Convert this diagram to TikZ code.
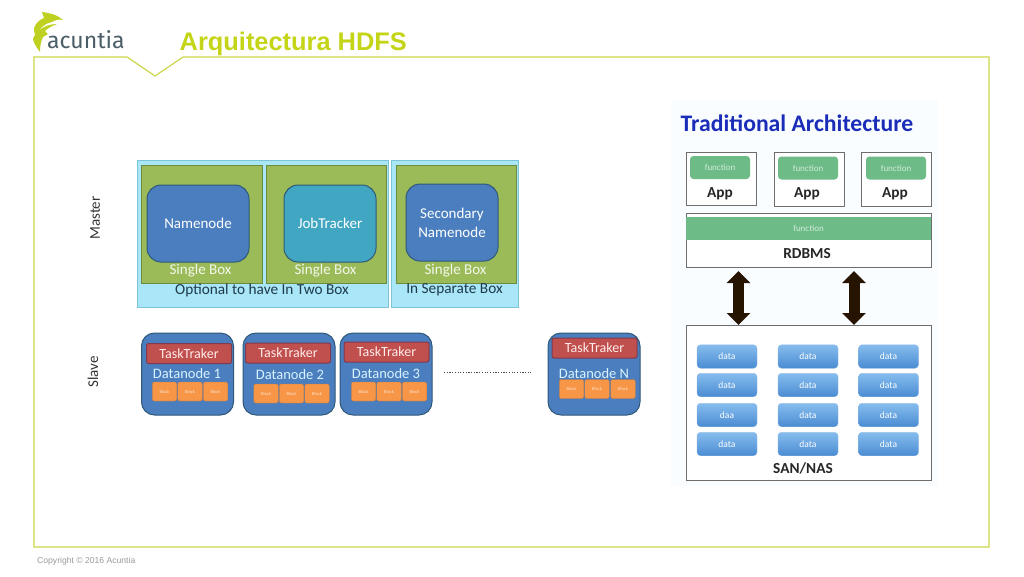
\documentclass[tikz,border=0pt]{standalone}
\usepackage{fontspec}
\setmainfont{Carlito}
\newfontfamily\arialfont{Liberation Sans}
\newfontfamily\logofont{Fira Sans}
\usepackage{tikz}
\usetikzlibrary{arrows.meta}
\definecolor{lime}{HTML}{C4D416}
\definecolor{framelime}{HTML}{CDD64A}
\definecolor{skyfill}{HTML}{A8E6F8}
\definecolor{skyline}{HTML}{7FC4D4}
\definecolor{olive}{HTML}{9BBB59}
\definecolor{oliveline}{HTML}{6F8A3E}
\definecolor{nodeblue}{HTML}{4A7EBF}
\definecolor{nodeline}{HTML}{2F5878}
\definecolor{jobteal}{HTML}{40A6C2}
\definecolor{taskred}{HTML}{C0504D}
\definecolor{taskline}{HTML}{7E3A50}
\definecolor{blockorange}{HTML}{F79646}
\definecolor{funcgreen}{HTML}{6DBB86}
\definecolor{boxgray}{HTML}{6E6E6E}
\definecolor{titleblue}{HTML}{1A2DB8}
\definecolor{logoslate}{HTML}{4B5D67}
\definecolor{captionslate}{HTML}{1F3A4A}
\definecolor{datatop}{HTML}{86BDEE}
\definecolor{databottom}{HTML}{4A8BD2}
\tikzset{
  txt/.style={font=\fontsize{#1}{#1}\selectfont,inner sep=0pt},
  sized/.style 2 args={minimum width=#1,minimum height=#2,inner sep=0pt,outer sep=0pt},
  skybox/.style 2 args={sized={#1}{#2},draw=skyline,fill=skyfill,line width=0.8pt},
  olivebox/.style 2 args={sized={#1}{#2},draw=oliveline,fill=olive,line width=0.8pt},
  corebox/.style 2 args={sized={#1}{#2},draw=nodeline,fill=nodeblue,line width=1pt,rounded corners=14pt,text=white,font=\fontsize{15}{19}\selectfont,align=center},
  datanode/.style={sized={92}{82},draw=nodeline,fill=nodeblue,line width=1pt,rounded corners=13pt},
  taskbox/.style={sized={85}{20},draw=taskline,fill=taskred,line width=1pt,rounded corners=2pt,text=white!92!red,font=\fontsize{14}{14}\selectfont},
  blockbox/.style={sized={24.5}{19},fill=blockorange,draw=blockorange!80!black,line width=0.3pt,rounded corners=2pt,text=white!75!blockorange,font=\fontsize{4.5}{5}\selectfont},
  appbox/.style={sized={70}{53.5},draw=boxgray,fill=white,line width=1pt},
  funcbox/.style={sized={60}{23},fill=funcgreen,rounded corners=3.5pt,text=white!70!funcgreen,font=\fontsize{9}{9}\selectfont},
  databox/.style={sized={60}{23.5},top color=datatop,bottom color=databottom,draw=databottom!60,line width=0.3pt,rounded corners=3.5pt,text=white,font=\fontsize{9.5}{9.5}\selectfont},
  bigarrow/.style={line width=11pt,draw=black!85!orange,{Triangle[width=23pt,length=12pt]}-{Triangle[width=23pt,length=12pt]}},
  darktext/.style={inner sep=0pt,text=black!85,font=\fontsize{15.3}{15.3}\selectfont\bfseries}
}
\begin{document}
\begin{tikzpicture}[x=1pt,y=-1pt]
\useasboundingbox (0,0) rectangle (1024,576);
% page frame and heading
\draw[framelime,line width=1.2pt] (34,57) -- (127,57) -- (155,76) -- (183,57) -- (989,57) -- (989,547) -- (34,547) -- cycle;
\node[txt=25.4,text=lime,anchor=west,font=\arialfont\bfseries\fontsize{25.4}{26}\selectfont] (heading) at (179.5,43.5) {Arquitectura HDFS};
\node[txt=8.6,text=black!40,anchor=west,font=\arialfont\fontsize{8.6}{9}\selectfont] (copyright) at (37,561) {Copyright © 2016 Acuntia};
% logo
\fill[lime!85!olive] (42,12) .. controls (50,13) and (58,15) .. (63,20) .. controls (59,19) and (55,20) .. (52,22) .. controls (46,23) and (39,28) .. (36,36) .. controls (34,33) and (34,30) .. (34,28) .. controls (36,23) and (39,20) .. (44,18) -- cycle;
\fill[lime!85!olive] (57,24) .. controls (52,26) and (48,28) .. (45,31) -- (48,34) -- (43,37) .. controls (41,41) and (40,46) .. (40,52) .. controls (37,48) and (34,44) .. (33,39) .. controls (35,32) and (44,24) .. (57,24) -- cycle;
\node[txt=23,text=logoslate,anchor=base west,font=\logofont\fontsize{23}{23}\selectfont] (logotext) at (47,48.5) {acuntia};
% master
\node[txt=15,rotate=90,text=black!80,font=\fontsize{15}{15}\selectfont] (master) at (95,218) {Master};
\node[skybox={251}{147}] (twobox) at (262.5,233.5) {};
\node[skybox={127}{147}] (sepbox) at (454.5,233.5) {};
\node[olivebox={121}{118}] (single1) at (201.5,224) {};
\node[olivebox={120}{118}] (single2) at (326,224) {};
\node[olivebox={120}{118}] (single3) at (456,224) {};
\node[corebox={102}{77}] (namenode) at (198,223.5) {Namenode};
\node[corebox={92}{77},fill=jobteal] (jobtracker) at (330,223.5) {JobTracker};
\node[corebox={92}{77}] (secondary) at (452,222.5) {Secondary\\Namenode};
\node[txt=15,text=white!88!olive,font=\fontsize{15}{15}\selectfont] (singletext1) at (200.5,271) {Single Box};
\node[txt=15,text=white!88!olive,font=\fontsize{15}{15}\selectfont] (singletext2) at (325.5,271) {Single Box};
\node[txt=15,text=white!88!olive,font=\fontsize{15}{15}\selectfont] (singletext3) at (455.5,271) {Single Box};
\node[txt=15,text=captionslate,font=\fontsize{15.3}{15.3}\selectfont] (twotext) at (262,290) {Optional to have In Two Box};
\node[txt=15,text=captionslate,font=\fontsize{15.3}{15.3}\selectfont] (septext) at (454.5,290) {In Separate Box};
% slave
\node[txt=15,rotate=90,text=black!80,font=\fontsize{15}{15}\selectfont] (slave) at (93,372) {Slave};
\node[datanode] (data1) at (187.5,374) {};
\node[datanode] (data2) at (289,374) {};
\node[datanode] (data3) at (386,374) {};
\node[datanode] (dataN) at (594,374) {};
\node[taskbox] (task1) at (189,353.5) {TaskTraker};
\node[taskbox] (task2) at (288,353) {TaskTraker};
\node[taskbox] (task3) at (386.5,352) {TaskTraker};
\node[taskbox] (taskN) at (594.5,348) {TaskTraker};
\node[txt=14.5,text=white!85!cyan,font=\fontsize{14.5}{14.5}\selectfont] (name1) at (187,374) {Datanode 1};
\node[txt=14.5,text=white!85!cyan,font=\fontsize{14.5}{14.5}\selectfont] (name2) at (290,375) {Datanode 2};
\node[txt=14.5,text=white!85!cyan,font=\fontsize{14.5}{14.5}\selectfont] (name3) at (386,374) {Datanode 3};
\node[txt=14.5,text=white!85!cyan,font=\fontsize{14.5}{14.5}\selectfont] (nameN) at (594,374) {Datanode N};
\node[blockbox] (block11) at (164.5,391.5) {Block};
\node[blockbox] (block12) at (190,391.5) {Block};
\node[blockbox] (block13) at (215.5,391.5) {Block};
\node[blockbox] (block21) at (266,393.5) {Block};
\node[blockbox] (block22) at (291.5,393.5) {Block};
\node[blockbox] (block23) at (317,393.5) {Block};
\node[blockbox] (block31) at (363.5,391.5) {Block};
\node[blockbox] (block32) at (389,391.5) {Block};
\node[blockbox] (block33) at (414.5,391.5) {Block};
\node[blockbox] (blockN1) at (571.5,389) {Block};
\node[blockbox] (blockN2) at (597,389) {Block};
\node[blockbox] (blockN3) at (623,389) {Block};
\coordinate (dotsL) at (444,372.5);
\coordinate (dotsR) at (531,372.5);
\draw[line width=1.1pt,black!70,dash pattern=on 1.2pt off 1.5pt] (dotsL) -- (dotsR);
% traditional architecture
\fill[black!2!cyan!2!white] (671,100) rectangle (938,486);
\node[txt=23,text=titleblue,font=\fontsize{23.7}{24}\selectfont\bfseries] (tradtitle) at (797,123) {Traditional Architecture};
\node[appbox] (app1) at (721,179) {};
\node[appbox] (app2) at (809,179.5) {};
\node[appbox] (app3) at (896,179.5) {};
\node[funcbox] (func1) at (720,167.5) {function};
\node[funcbox] (func2) at (808,168) {function};
\node[funcbox] (func3) at (896,168) {function};
\node[darktext] (apptext1) at (720,194) {App};
\node[darktext] (apptext2) at (807,194) {App};
\node[darktext] (apptext3) at (895,194) {App};
\node[sized={245}{54},draw=boxgray,fill=white,line width=1pt] (rdbms) at (808.5,240) {};
\node[sized={245}{23},fill=funcgreen,text=white!70!funcgreen,font=\fontsize{9}{9}\selectfont] (funcbar) at (808.5,228.5) {function};
\node[darktext] (rdbmstext) at (807,254) {RDBMS};
\node[sized={245}{155},draw=boxgray,fill=white,line width=1pt] (san) at (808.5,402.5) {};
\coordinate (arrowA) at (738.5,296);
\coordinate (arrowB) at (854,296);
\draw[bigarrow,shorten <=4pt] (rdbms.south -| arrowA) -- (san.north -| arrowA);
\draw[bigarrow,shorten <=4pt] (rdbms.south -| arrowB) -- (san.north -| arrowB);
\node[databox] (data11) at (727,356.5) {data};
\node[databox] (data12) at (808,356.5) {data};
\node[databox] (data13) at (888.5,356.5) {data};
\node[databox] (data21) at (727,385) {data};
\node[databox] (data22) at (808,385) {data};
\node[databox] (data23) at (888.5,385) {data};
\node[databox] (data31) at (727,415) {daa};
\node[databox] (data32) at (808,415) {data};
\node[databox] (data33) at (888.5,415) {data};
\node[databox] (data41) at (727,444) {data};
\node[databox] (data42) at (808,444) {data};
\node[databox] (data43) at (888.5,444) {data};
\node[darktext] (santext) at (803,468) {SAN/NAS};
\end{tikzpicture}
\end{document}
